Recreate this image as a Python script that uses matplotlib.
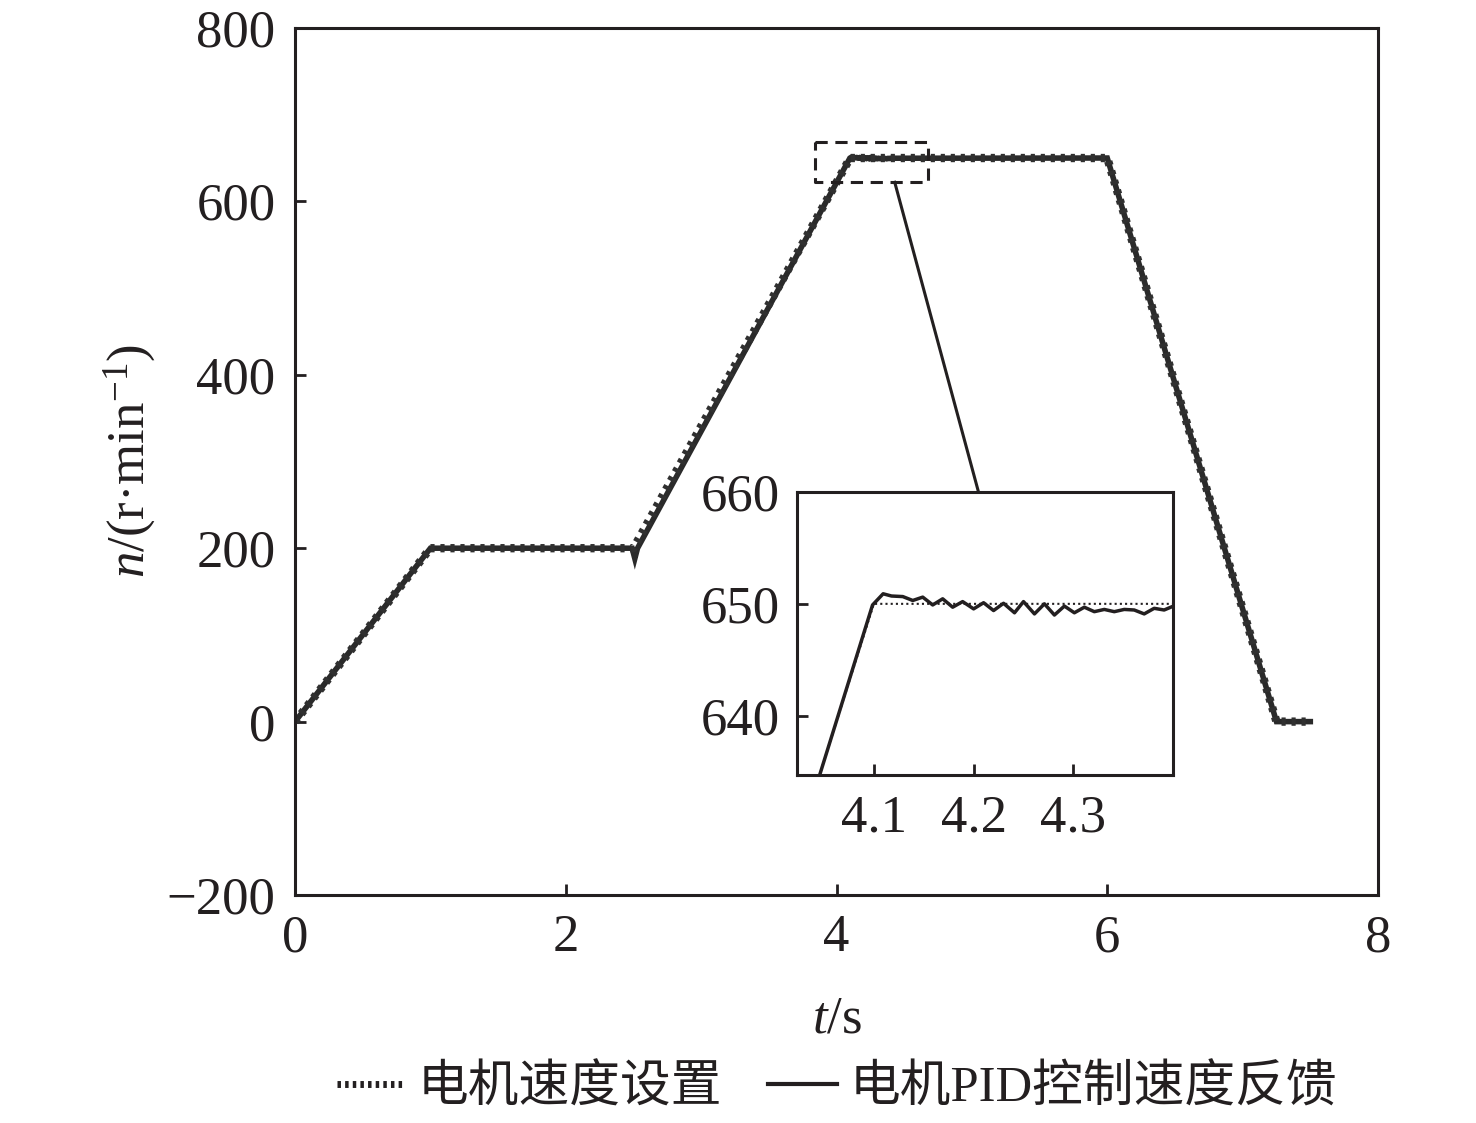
import matplotlib
matplotlib.use("Agg")
import matplotlib.pyplot as plt
from matplotlib.lines import Line2D

# --- data ---
set_t = [0.0, 1.0, 2.5, 4.1, 6.0, 7.25, 7.5]
set_n = [0, 200, 200, 650, 650, 0, 0]

fb_t = [0.0, 1.0, 2.49, 2.51, 2.53, 4.0987, 4.1093, 4.1177, 4.129, 4.139, 4.149, 4.159, 4.169,
        4.179, 4.189, 4.200, 4.210, 4.220, 4.230, 4.241, 4.250, 4.261, 4.271, 4.281, 4.291,
        4.301, 4.311, 4.321, 4.331, 4.341, 4.351, 4.361, 4.371, 4.381, 4.391, 4.399,
        6.0, 7.25, 7.5]
fb_n = [0, 200, 200, 188, 200, 649.9, 650.9, 650.7, 650.65, 650.3, 650.6, 649.9, 650.45,
        649.7, 650.2, 649.55, 650.1, 649.4, 650.05, 649.2, 650.2, 649.1, 650.0, 649.0, 649.8,
        649.2, 649.7, 649.3, 649.5, 649.3, 649.5, 649.45, 649.1, 649.6, 649.45, 649.75,
        650, 0, 0]

x_ticks = [0, 2, 4, 6, 8]
y_ticks = [-200, 0, 200, 400, 600, 800]
inset_xticks = [4.1, 4.2, 4.3]
inset_yticks = [640, 650, 660]
legend_labels = ["电机速度设置", "电机PID控制速度反馈"]

serif = ["Liberation Serif", "DejaVu Serif"]
cjk = ["Liberation Serif", "Noto Sans CJK SC"]
plt.rcParams["font.family"] = serif
plt.rcParams["mathtext.fontset"] = "custom"
plt.rcParams["mathtext.rm"] = "Liberation Serif"
plt.rcParams["mathtext.it"] = "Liberation Serif:italic"
plt.rcParams["axes.unicode_minus"] = True

ink = "#231f20"
fig = plt.figure(figsize=(14.76, 11.23), dpi=100)
ax = fig.add_axes([0.1999, 0.2030, 0.7337, 0.7721])

ax.plot(fb_t, fb_n, color="#2a2a2a", lw=4.0, solid_joinstyle="miter")
ax.plot(set_t, set_n, color="#303030", lw=6.0, linestyle=(0, (0.5, 0.7)))
ax.set_xlim(0, 8)
ax.set_ylim(-200, 800)
ax.set_xticks(x_ticks)
ax.set_yticks(y_ticks)
ax.set_yticklabels([("\u2212" + str(-v)) if v < 0 else str(v) for v in y_ticks])
ax.tick_params(direction="in", length=8, width=2, labelsize=38,
               top=False, right=False, colors=ink)
ax.tick_params(axis="x", pad=14)
ax.tick_params(axis="y", pad=14)
for s in ax.spines.values():
    s.set_linewidth(2.2)
    s.set_color(ink)
ax.set_xlabel(r"$t$/s", fontsize=38, labelpad=24, color=ink)
ax.set_ylabel(r"$n$/(r·min$^{-1}$)", fontsize=38, labelpad=6, color=ink)

# zoom box and connector
ax.plot([3.84, 4.675, 4.675, 3.84, 3.84], [669, 669, 622, 622, 669],
        color=ink, lw=2.2, linestyle=(0, (4, 2.5)))
ax.plot([4.43, 5.045], [622, 267], color=ink, lw=2.2)

# inset
axi = fig.add_axes([0.540, 0.3099, 0.2548, 0.2520])
axi.plot(fb_t, fb_n, color=ink, lw=2.5)
axi.plot(set_t, set_n, color=ink, lw=1.5, linestyle=(0, (1, 1.5)))
axi.set_xlim(4.023, 4.4)
axi.set_ylim(634.7, 660)
axi.set_xticks(inset_xticks)
axi.set_yticks(inset_yticks)
axi.tick_params(direction="in", length=8, width=2, labelsize=38,
                top=False, right=False, colors=ink)
axi.tick_params(axis="x", pad=14)
axi.tick_params(axis="y", pad=12)
for s in axi.spines.values():
    s.set_linewidth(2.2)
    s.set_color(ink)

handles = [Line2D([], [], color=ink, lw=5, linestyle=(0, (0.5, 0.6))),
           Line2D([], [], color=ink, lw=3)]
leg = fig.legend(handles, legend_labels, loc="center", bbox_to_anchor=(0.567, 0.03),
                 ncol=2, frameon=False, handlelength=1.35, handletextpad=0.25,
                 columnspacing=0.9, prop={"family": cjk, "size": 36.5})
for t in leg.get_texts():
    t.set_color(ink)

fig.savefig("out.png", dpi=100)
